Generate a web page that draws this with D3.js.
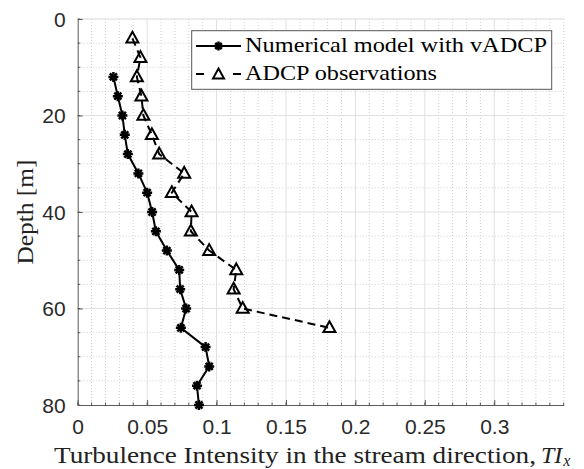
<!DOCTYPE html>
<html><head><meta charset="utf-8">
<script src="https://cdn.jsdelivr.net/npm/d3@7"></script>
<style>body{margin:0;background:#fff}svg{display:block}</style>
</head><body>
<svg id="c" width="584" height="469"></svg>
<script>
// ---- data ----
const depthModel = [12,16,20,24,28,32,36,40,44,48,52,56,60,64,68,72,76,80];
const tiModel = [0.0257,0.0289,0.0322,0.0339,0.0361,0.0437,0.0500,0.0536,0.0563,0.0642,0.0731,0.0738,0.0781,0.0743,0.0921,0.0947,0.0859,0.0873];
const depthADCP = [4,8,12,16,20,24,28,32,36,40,44,48,52,56,60,64];
const tiADCP = [0.0394,0.0452,0.0426,0.0459,0.0473,0.0534,0.0587,0.0767,0.0678,0.0820,0.0815,0.0947,0.1142,0.1123,0.1188,0.1813];
const xTicks = [0,0.05,0.1,0.15,0.2,0.25,0.3];
const xTickLabels = ["0","0.05","0.1","0.15","0.2","0.25","0.3"];
const yTicks = [0,20,40,60,80];
const legendLabels = ["Numerical model with vADCP","ADCP observations"];
const xLabel = "Turbulence Intensity in the stream direction, ";
const yLabel = "Depth [m]";

const svg = d3.select("#c");
const x = d3.scaleLinear().domain([0,0.35]).range([77.7,563.7]);
const y = d3.scaleLinear().domain([0,80]).range([19,405]);

const g = svg.append("g");
// minor grid
const xMinor = d3.range(0,0.3501,0.01).map(v=>+v.toFixed(3));
const yMinor = d3.range(0,80.01,5);
g.selectAll(".mx").data(xMinor.filter(v=>Math.abs(v*20-Math.round(v*20))>1e-6 || v>0.3)).enter().append("line")
  .attr("x1",d=>x(d)).attr("x2",d=>x(d)).attr("y1",y(0)).attr("y2",y(80))
  .attr("stroke","#cfcfcf").attr("stroke-width",1).attr("stroke-dasharray","1,2");
g.selectAll(".my").data(yMinor.filter(v=>v%20!==0 || v===0)).enter().append("line")
  .attr("x1",x(0)).attr("x2",x(0.35)).attr("y1",d=>y(d)).attr("y2",d=>y(d))
  .attr("stroke","#cfcfcf").attr("stroke-width",1).attr("stroke-dasharray","1,2");
// major grid
g.selectAll(".gx").data(xTicks.slice(1)).enter().append("line")
  .attr("x1",d=>x(d)).attr("x2",d=>x(d)).attr("y1",y(0)).attr("y2",y(80))
  .attr("stroke","#e0e0e0").attr("stroke-width",1);
g.selectAll(".gy").data(yTicks.slice(0,-1)).enter().append("line")
  .attr("x1",x(0)).attr("x2",x(0.35)).attr("y1",d=>y(d)).attr("y2",d=>y(d))
  .attr("stroke","#e0e0e0").attr("stroke-width",1);

// axes
const axCol = "#5a5a5a";
const xAxis = d3.axisBottom(x).tickValues(xTicks).tickFormat((d,i)=>xTickLabels[i]).tickSizeInner(-5).tickSizeOuter(0).tickPadding(14);
const xa = svg.append("g").attr("transform",`translate(0,${y(80)})`).call(xAxis);
const yAxis = d3.axisLeft(y).tickValues(yTicks).tickSizeInner(-5).tickSizeOuter(0).tickPadding(12);
const ya = svg.append("g").attr("transform",`translate(${x(0)},0)`).call(yAxis);
[xa,ya].forEach(a=>{
  a.select(".domain").attr("stroke",axCol).attr("stroke-width",1);
  a.selectAll(".tick line").attr("stroke",axCol);
  a.selectAll("text").attr("font-family","Liberation Sans, Arial, sans-serif").attr("font-size",21).attr("fill","#2a2a2a");
});
ya.selectAll("text").attr("dy","0.35em");
// minor ticks
svg.append("g").selectAll("line").data(xMinor).enter().append("line")
  .attr("x1",d=>x(d)).attr("x2",d=>x(d)).attr("y1",y(80)).attr("y2",y(80)-2.5).attr("stroke",axCol);
svg.append("g").selectAll("line").data(yMinor).enter().append("line")
  .attr("x1",x(0)).attr("x2",x(0)+2.5).attr("y1",d=>y(d)).attr("y2",d=>y(d)).attr("stroke",axCol);

// series
const model = depthModel.map((d,i)=>({d,v:tiModel[i]}));
const adcp = depthADCP.map((d,i)=>({d,v:tiADCP[i]}));
const line = d3.line().x(p=>x(p.v)).y(p=>y(p.d));
svg.append("path").datum(adcp).attr("d",line).attr("fill","none").attr("stroke","#000").attr("stroke-width",2).attr("stroke-dasharray","8,5");
svg.append("path").datum(model).attr("d",line).attr("fill","none").attr("stroke","#000").attr("stroke-width",2);

function asterisk(sel, cx, cy, r){
  const a = r*0.707;
  sel.append("path").attr("d",`M${cx-r},${cy}L${cx+r},${cy}M${cx},${cy-r}L${cx},${cy+r}M${cx-a},${cy-a}L${cx+a},${cy+a}M${cx-a},${cy+a}L${cx+a},${cy-a}`)
    .attr("stroke","#000").attr("stroke-width",2.5).attr("fill","none");
  sel.append("circle").attr("cx",cx).attr("cy",cy).attr("r",r*0.55).attr("fill","#000");
}
function tri(sel, cx, cy, s){
  const h = s*0.9;
  sel.append("path").attr("d",`M${cx},${cy-h*0.6}L${cx+s/2},${cy+h*0.4}L${cx-s/2},${cy+h*0.4}Z`)
    .attr("stroke","#000").attr("stroke-width",2).attr("fill","none").attr("stroke-linejoin","miter");
}
const mg = svg.append("g");
model.forEach(p=>asterisk(mg, x(p.v), y(p.d), 5));
adcp.forEach(p=>tri(mg, x(p.v), y(p.d), 12));

// legend
const lg = svg.append("g");
lg.append("rect").attr("x",191.7).attr("y",30.7).attr("width",360).attr("height",58.6)
  .attr("fill","#fff").attr("stroke","#555").attr("stroke-width",1);
lg.append("line").attr("x1",196).attr("x2",241).attr("y1",46).attr("y2",46).attr("stroke","#000").attr("stroke-width",2);
asterisk(lg,218.5,46,4.5);
lg.append("line").attr("x1",196).attr("x2",204).attr("y1",74).attr("y2",74).attr("stroke","#000").attr("stroke-width",2);
lg.append("line").attr("x1",233).attr("x2",241).attr("y1",74).attr("y2",74).attr("stroke","#000").attr("stroke-width",2);
tri(lg,218.5,74.5,11);
const serif = "Liberation Serif, DejaVu Serif, serif";
lg.append("text").attr("x",245).attr("y",52).text(legendLabels[0]).attr("font-family",serif).attr("font-size",22)
  .attr("textLength",302).attr("lengthAdjust","spacingAndGlyphs").attr("fill","#000");
lg.append("text").attr("x",245).attr("y",80).text(legendLabels[1]).attr("font-family",serif).attr("font-size",22)
  .attr("textLength",192).attr("lengthAdjust","spacingAndGlyphs").attr("fill","#000");

// axis labels
svg.append("text").attr("x",54).attr("y",463).attr("font-family",serif).attr("font-size",24).attr("fill","#222")
  .attr("textLength",482).attr("lengthAdjust","spacingAndGlyphs").text(xLabel);
const ti = svg.append("text").attr("x",541).attr("y",463).attr("font-family",serif).attr("font-size",24).attr("font-style","italic").attr("fill","#222");
ti.append("tspan").text("TI");
ti.append("tspan").attr("font-size",16).attr("dy",3).attr("dx",1).text("x");
svg.append("text").attr("transform",`translate(33,${(y(0)+y(80))/2}) rotate(-90)`).attr("text-anchor","middle")
  .attr("font-family",serif).attr("font-size",24).attr("fill","#222").attr("textLength",105).attr("lengthAdjust","spacingAndGlyphs").text(yLabel);
</script>
</body></html>
